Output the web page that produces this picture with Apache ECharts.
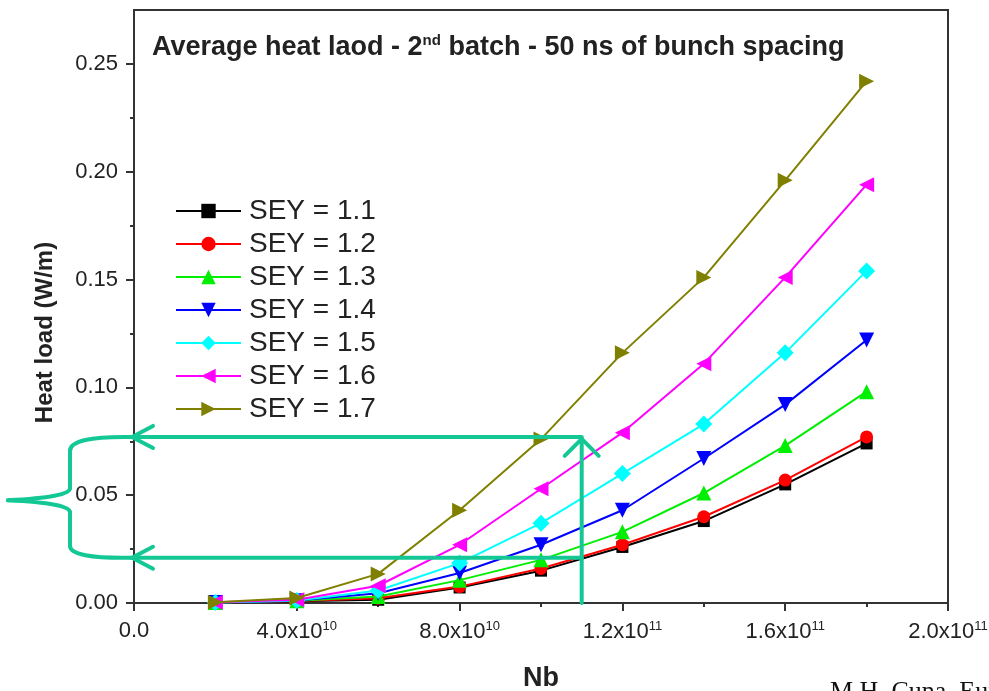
<!DOCTYPE html>
<html>
<head>
<meta charset="utf-8">
<script src="https://cdn.jsdelivr.net/npm/echarts@6/dist/echarts.min.js"></script>
<style>html,body{margin:0;padding:0;background:#fff;}#c{width:989px;height:691px;}</style>
</head>
<body>
<div id="c"></div>
<script>
// ---- data ----
const nb = [2e10, 4e10, 6e10, 8e10, 1e11, 1.2e11, 1.4e11, 1.6e11, 1.8e11];
const seyNames = ['SEY = 1.1','SEY = 1.2','SEY = 1.3','SEY = 1.4','SEY = 1.5','SEY = 1.6','SEY = 1.7'];
const sey11 = [0.0002, 0.0008, 0.0015, 0.0072, 0.015, 0.026, 0.038, 0.055, 0.074];
const sey12 = [0.0002, 0.0009, 0.0022, 0.0076, 0.016, 0.027, 0.040, 0.057, 0.077];
const sey13 = [0.0002, 0.0010, 0.0030, 0.0106, 0.020, 0.033, 0.051, 0.073, 0.098];
const sey14 = [0.0002, 0.0011, 0.0045, 0.0139, 0.027, 0.043, 0.067, 0.092, 0.122];
const sey15 = [0.0002, 0.0012, 0.0058, 0.0185, 0.037, 0.060, 0.083, 0.116, 0.154];
const sey16 = [0.0003, 0.0015, 0.0080, 0.0270, 0.053, 0.079, 0.111, 0.151, 0.194];
const sey17 = [0.0003, 0.0023, 0.0135, 0.0430, 0.076, 0.116, 0.151, 0.196, 0.242];
const yTicks = [0, 0.05, 0.10, 0.15, 0.20, 0.25];
// annotation values (data space)
const annoX = 1.1e11;
const annoYHigh = 0.077;
const annoYLow = 0.021;

const colors = ['#000000','#ff0000','#00ee00','#0000ff','#00ffff','#ff00ff','#808000'];
const symbols = ['rect','circle','triangle',
  'path://M0,0 L10,0 L5,9 Z',
  'diamond',
  'path://M9,0 L9,10 L0,5 Z',
  'path://M0,0 L0,10 L9,5 Z'];
const symSizes = [12, 13, 15, 15, 17, 15, 15];
const allData = [sey11, sey12, sey13, sey14, sey15, sey16, sey17];

const chart = echarts.init(document.getElementById('c'), null, {renderer:'canvas'});
const FONT = 'Liberation Sans, Arial, sans-serif';
const TXT = '#222';

function xFmt(v){
  if (v === 0) return '0.0';
  const e = Math.floor(Math.log10(v) + 1e-9);
  const m = v / Math.pow(10, e);
  return m.toFixed(1) + 'x10{sup|' + e + '}';
}

const series = allData.map((d, i) => ({
  name: seyNames[i],
  type: 'line',
  data: nb.map((x, j) => [x, d[j]]),
  symbol: symbols[i],
  symbolSize: symSizes[i],
  showAllSymbol: true,
  lineStyle: {color: colors[i], width: 2},
  itemStyle: {color: colors[i]},
  z: 2 + i,
  animation: false
}));

chart.setOption({
  animation: false,
  backgroundColor: '#fff',
  title: {
    left: 152, top: 33, padding: 0,
    text: '{a|Average heat laod - 2}{s|nd}{a| batch - 50 ns of bunch spacing}',
    textStyle: {
      rich: {
        a: {fontSize: 27, fontWeight: 'bold', fontFamily: FONT, color: TXT},
        s: {fontSize: 15, fontWeight: 'bold', fontFamily: FONT, color: TXT, padding: [0,0,14,0]}
      }
    }
  },
  grid: {left: 134, right: 41, top: 10, bottom: 88, containLabel: false, outerBoundsMode: 'none',
         show: true, borderColor: '#333', borderWidth: 2, backgroundColor: 'transparent'},
  legend: {
    left: 175, top: 197, orient: 'vertical', padding: 0,
    itemWidth: 65, itemHeight: 18, itemGap: 5,
    textStyle: {fontSize: 28, lineHeight: 28, fontFamily: FONT, color: TXT, padding: [0,0,0,3]},
    data: seyNames
  },
  xAxis: {
    type: 'value', min: 0, max: 2e11, interval: 4e10,
    name: 'Nb', nameLocation: 'middle', nameGap: 62,
    nameTextStyle: {fontSize: 27, fontWeight: 'bold', fontFamily: FONT, color: TXT},
    axisLine: {show: true, onZero: false, lineStyle: {color: '#333', width: 2}},
    axisTick: {show: true, inside: false, length: 8, lineStyle: {color: '#333', width: 2}},
    minorTick: {show: true, splitNumber: 2, length: 4, lineStyle: {color: '#333', width: 2}},
    splitLine: {show: false},
    axisLabel: {
      margin: 17, formatter: xFmt, color: TXT, fontSize: 22, fontFamily: FONT,
      rich: {sup: {fontSize: 13, fontFamily: FONT, color: TXT, padding: [0,0,11,0]}}
    }
  },
  yAxis: {
    type: 'value', min: 0, max: 0.275, interval: 0.05,
    name: 'Heat load (W/m)', nameLocation: 'middle', nameGap: 77, nameRotate: 90,
    nameTextStyle: {fontSize: 24, fontWeight: 'bold', fontFamily: FONT, color: TXT, padding: [0, 52, 0, 0]},
    axisLine: {show: true, onZero: false, lineStyle: {color: '#333', width: 2}},
    axisTick: {show: true, inside: false, length: 8, lineStyle: {color: '#333', width: 2}},
    minorTick: {show: true, splitNumber: 2, length: 4, lineStyle: {color: '#333', width: 2}},
    splitLine: {show: false},
    axisLabel: {
      margin: 16, color: TXT, fontSize: 22, fontFamily: FONT,
      formatter: v => (yTicks.some(t => Math.abs(t - v) < 1e-9) ? v.toFixed(2) : '')
    }
  },
  series: series
});

// ---- annotations (hand-drawn style arrows and brace) ----
const G = '#14c896';
const pHi = chart.convertToPixel({gridIndex: 0}, [0, annoYHigh]);
const pLo = chart.convertToPixel({gridIndex: 0}, [0, annoYLow]);
const pV = chart.convertToPixel({gridIndex: 0}, [annoX, 0]);
const pTop = chart.convertToPixel({gridIndex: 0}, [0, 0.275]);
const x0 = pHi[0] - 3, yH = pHi[1], yL = pLo[1], xv = pV[0], yb = pV[1];
const ls = {stroke: G, lineWidth: 4, fill: null, lineCap: 'round', lineJoin: 'round'};
const ym = (yH + yL) / 2 + 3;
const bx = 70;
chart.setOption({
  graphic: [
    // hide the extra tick at the axis max
    {type: 'rect', z: 100, shape: {x: pTop[0] - 12, y: pTop[1] - 3, width: 11, height: 6}, style: {fill: '#fff'}},
    {type: 'polyline', z: 100, shape: {points: [[xv, yH], [x0, yH]]}, style: ls},
    {type: 'polyline', z: 100, shape: {points: [[x0 + 22, yH - 11], [x0 + 1, yH], [x0 + 22, yH + 11]]}, style: ls},
    {type: 'polyline', z: 100, shape: {points: [[xv, yL], [x0, yL]]}, style: ls},
    {type: 'polyline', z: 100, shape: {points: [[x0 + 22, yL - 11], [x0 + 1, yL], [x0 + 22, yL + 11]]}, style: ls},
    {type: 'polyline', z: 100, shape: {points: [[xv, yb], [xv, yH + 1]]}, style: ls},
    {type: 'polyline', z: 100, shape: {points: [[xv - 17, yH + 19], [xv, yH + 2], [xv + 17, yH + 19]]}, style: ls},
    // brace
    {type: 'bezierCurve', z: 100, shape: {x1: x0, y1: yH, cpx1: bx, cpy1: yH - 1, x2: bx, y2: yH + 14}, style: ls},
    {type: 'polyline', z: 100, shape: {points: [[bx, yH + 14], [bx, ym - 12]]}, style: ls},
    {type: 'bezierCurve', z: 100, shape: {x1: bx, y1: ym - 12, cpx1: bx, cpy1: ym - 3, x2: 8, y2: ym}, style: ls},
    {type: 'bezierCurve', z: 100, shape: {x1: 8, y1: ym, cpx1: bx, cpy1: ym + 3, x2: bx, y2: ym + 12}, style: ls},
    {type: 'polyline', z: 100, shape: {points: [[bx, ym + 12], [bx, yL - 12]]}, style: ls},
    {type: 'bezierCurve', z: 100, shape: {x1: bx, y1: yL - 12, cpx1: bx, cpy1: yL + 1, x2: x0, y2: yL}, style: ls},
    {type: 'text', z: 100, left: 830, top: 679, style: {text: 'M.H. Cuna, Eur. Phys.', font: '26px "Liberation Serif", "Times New Roman", serif', fill: '#111'}}
  ]
});
</script>
</body>
</html>
